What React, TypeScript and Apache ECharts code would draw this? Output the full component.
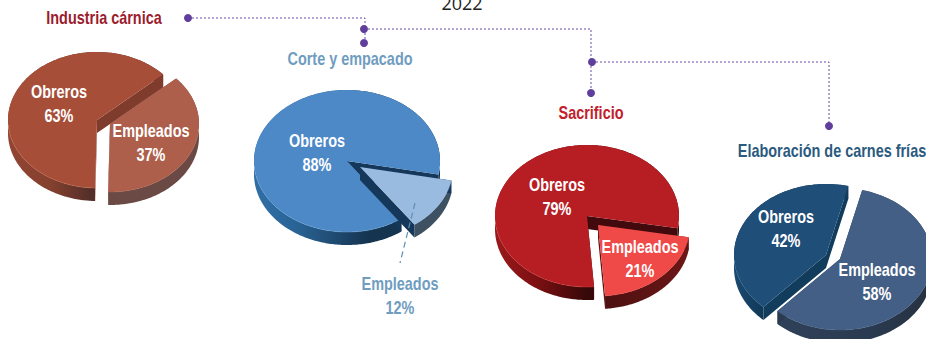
import React, { useEffect, useRef } from "react";
import * as echarts from "echarts";

const yearLabel = "2022";
const pieTitles = ["Industria cárnica", "Corte y empacado", "Sacrificio", "Elaboración de carnes frías"];
const sliceNames = ["Obreros", "Empleados"];
const obreros = [63, 88, 79, 42];
const empleados = [37, 12, 21, 58];

// Layout and styling, separate from the values
const FONT = "'Liberation Sans', Arial, sans-serif";
const NARROW = 0.78;
const FONT_SIZE = 18.5;
const DEPTH = 13;
const boundaryAngles = [48, 101, 100, 14];
const geometry = [
  [{ cx: 97, cy: 120, rx: 89, ry: 68 }, { cx: 110, cy: 124, rx: 89, ry: 68 }],
  [{ cx: 347, cy: 161, rx: 93, ry: 71 }, { cx: 360, cy: 167, rx: 93, ry: 71 }],
  [{ cx: 587, cy: 216, rx: 92, ry: 71 }, { cx: 598, cy: 225, rx: 92, ry: 71 }],
  [{ cx: 826, cy: 255, rx: 92, ry: 71 }, { cx: 840, cy: 259, rx: 92, ry: 71 }],
];
const labelPositions = [
  [[59, 104], [151, 143]],
  [[317, 153], [400, 296]],
  [[557, 197], [640, 259]],
  [[786, 229], [877, 282]],
];
const labelColors = [
  ["#ffffff", "#ffffff"],
  ["#ffffff", "#6f9dc0"],
  ["#ffffff", "#ffffff"],
  ["#ffffff", "#ffffff"],
];
const palette = [
  [
    { top: "#a64e38", wall: "#7f3b2c", side: ["#924532", "#84402e", "#55302a"], mid: 0.28, end: 0.52, rim: "#c2664e" },
    { top: "#ad5f4c", wall: "#7f4a3e", side: ["#6b4a45", "#6b4a45", "#6b4a45"], mid: 0.5, end: 1, rim: "#ad5f4c" },
  ],
  [
    { top: "#4c89c6", wall: "#15375a", side: ["#2f6fa6", "#2a6496", "#15344f"], mid: 0.22, end: 0.62, rim: "#6ea4d8" },
    { top: "#9abbe0", wall: "#15375a", side: ["#3d5163", "#3d5163", "#3d5163"], mid: 0.5, end: 1, rim: "#9abbe0" },
  ],
  [
    { top: "#b71e24", wall: "#420a0c", side: ["#9a1a1c", "#7d1012", "#360808"], mid: 0.22, end: 0.5, rim: "#d0393a" },
    { top: "#ef4a48", wall: "#5f1414", side: ["#4d1010", "#5f1414", "#6e1616"], mid: 0.6, end: 1, rim: "#ef4a48" },
  ],
  [
    { top: "#1f4e79", wall: "#113c5c", side: ["#1a4a72", "#153f62", "#0f3550"], mid: 0.15, end: 0.3, rim: "#2a5f8c" },
    { top: "#435f85", wall: "#2b3a50", side: ["#2f4059", "#2a3a50", "#27313f"], mid: 0.6, end: 1, rim: "#435f85" },
  ],
];
const titleStyles = [
  { x: 104, y: 18, fill: "#9b1c2e" },
  { x: 350, y: 59, fill: "#6f9dc0" },
  { x: 591, y: 113, fill: "#c1202c" },
  { x: 832, y: 151, fill: "#2b5a80" },
];
const PURPLE = "#5f3f9b";
const connectorPaths = [
  [[188, 18], [365, 18], [365, 43]],
  [[364, 29], [591, 29], [591, 93]],
  [[592, 62], [829, 62], [829, 126]],
];
const connectorDots = [[188, 18], [364, 29], [364, 43], [592, 62], [591, 93], [829, 126]];

const seriesRows: number[][] = [];
obreros.forEach((v, i) => {
  seriesRows.push([i, 0, v]);
  seriesRows.push([i, 1, empleados[i]]);
});

function renderSlice(_params: any, api: any) {
  const pie = api.value(0) as number;
  const slice = api.value(1) as number;
  const value = api.value(2) as number;
  const g = geometry[pie][slice];
  const c = palette[pie][slice];
  const emp = (empleados[pie] / 100) * 360;
  const b = boundaryAngles[pie];
  const start = slice === 1 ? b : b + emp;
  const span = (value / 100) * 360;
  const pt = (deg: number, drop = 0) => {
    const t = (deg * Math.PI) / 180;
    return [g.cx + g.rx * Math.sin(t), g.cy - g.ry * Math.cos(t) + drop];
  };
  const arc: number[][] = [];
  const steps = Math.max(12, Math.round(span));
  for (let k = 0; k <= steps; k++) arc.push(pt(start + (span * k) / steps));
  const droppedArc = arc.map((p) => [p[0], p[1] + DEPTH]).reverse();
  const apex = [g.cx, g.cy];
  const apexDrop = [g.cx, g.cy + DEPTH];
  const wall = (deg: number) => ({
    type: "polygon",
    shape: { points: [apex, pt(deg), pt(deg, DEPTH), apexDrop] },
    style: { fill: c.wall },
  });
  // lighter hairline along the front rim of the top face, one polyline per contiguous run
  const runs: number[][][] = [];
  let run: number[][] = [];
  arc.forEach((p) => {
    if (p[1] > g.cy + g.ry * 0.1) run.push(p);
    else if (run.length) {
      runs.push(run);
      run = [];
    }
  });
  if (run.length) runs.push(run);
  return {
    type: "group",
    children: [
      {
        type: "polygon",
        shape: { points: [...arc, ...droppedArc] },
        style: {
          fill: new echarts.graphic.LinearGradient(0, 0, 1, 0, [
            { offset: 0, color: c.side[0] },
            { offset: c.mid, color: c.side[1] },
            { offset: c.end, color: c.side[2] },
          ]),
        },
      },
      wall(start),
      wall(start + span),
      { type: "polygon", shape: { points: [apex, ...arc] }, style: { fill: c.top } },
      ...runs
        .filter((r) => r.length > 1)
        .map((r) => ({
          type: "polyline",
          shape: { points: r },
          style: { fill: "none", stroke: c.rim, lineWidth: 1, opacity: 0.5 },
        })),
      {
        type: "text",
        x: labelPositions[pie][slice][0],
        y: labelPositions[pie][slice][1],
        scaleX: NARROW,
        style: {
          text: `${sliceNames[slice]}\n${value}%`,
          fill: labelColors[pie][slice],
          fontFamily: FONT,
          fontSize: FONT_SIZE,
          fontWeight: "bold",
          lineHeight: 24,
          align: "center",
          verticalAlign: "middle",
        },
      },
    ],
  };
}

export default function App() {
  const ref = useRef<HTMLDivElement>(null);
  useEffect(() => {
    if (!ref.current) return;
    const chart = echarts.init(ref.current, undefined, { renderer: "svg" });
    const graphics: any[] = [
      {
        type: "text",
        x: 462,
        y: 3,
        z: 10,
        style: { text: yearLabel, fill: "#222222", fontFamily: "'Open Sans', sans-serif", fontSize: 18, align: "center", verticalAlign: "middle" },
      },
      ...pieTitles.map((t, i) => ({
        type: "text",
        x: titleStyles[i].x,
        y: titleStyles[i].y,
        scaleX: NARROW,
        z: 10,
        style: { text: t, fill: titleStyles[i].fill, fontFamily: FONT, fontSize: FONT_SIZE, fontWeight: "bold", align: "center", verticalAlign: "middle" },
      })),
      ...connectorPaths.map((points) => ({
        type: "polyline",
        z: 10,
        shape: { points },
        style: { fill: "none", stroke: "#6a4ba6", lineWidth: 1, lineDash: [2, 2] },
      })),
      ...connectorDots.map(([cx, cy]) => ({
        type: "circle",
        z: 11,
        shape: { cx, cy, r: 4 },
        style: { fill: PURPLE },
      })),
      {
        type: "line",
        z: 10,
        shape: { x1: 415, y1: 203, x2: 400, y2: 263 },
        style: { stroke: "#5b8fb5", lineWidth: 1.2, lineDash: [6, 4] },
      },
    ];
    chart.setOption({
      animation: false,
      backgroundColor: "#ffffff",
      graphic: graphics,
      series: [
        {
          type: "custom",
          coordinateSystem: "none",
          silent: true,
          z: 1,
          data: seriesRows,
          renderItem: renderSlice,
        },
      ],
    });
    return () => chart.dispose();
  }, []);
  return <div ref={ref} style={{ position: "absolute", left: 0, top: 0, width: 926, height: 339, overflow: "hidden" }} />;
}
